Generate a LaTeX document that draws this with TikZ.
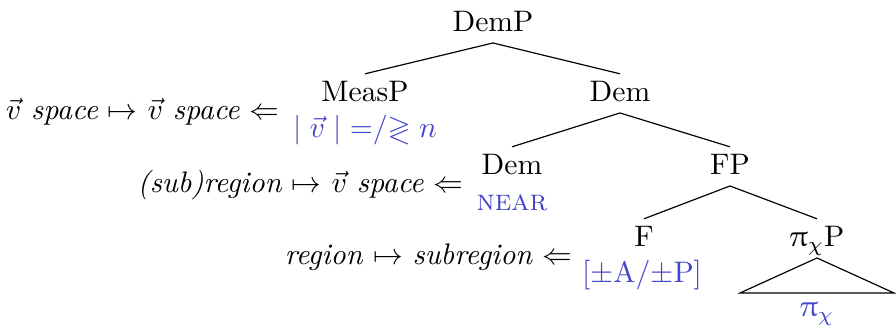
\documentclass[tikz,border=0pt]{standalone}
\usepackage{amsmath,amssymb}
\usepackage{upgreek}
\usepackage{tikz}
\definecolor{bleuGloss}{RGB}{68,68,204}

\begin{document}
\begin{tikzpicture}[x=0.337pt,y=-0.337pt,
  cat/.style={anchor=base,inner sep=2pt,text height=7.3pt,text depth=1.5pt},
  gloss/.style={anchor=base,inner sep=0pt,text=bleuGloss},
  maps/.style={anchor=base east,inner sep=0pt}]
  \useasboundingbox (0,0) rectangle (896,326);

  % Categories
  \node[cat] (demp)  at (493,32)  {DemP};
  \node[cat] (measp) at (365,102) {MeasP};
  \node[cat] (dem)   at (620,102) {Dem};
  \node[cat] (demb)  at (512,175) {Dem};
  \node[cat] (fp)    at (730,175) {FP};
  \node[cat] (f)     at (644,247) {F};
  \node[cat] (pchip) at (817,247) {$\uppi_\chi$P};

  % Branches
  \foreach \a/\b in {demp/measp,demp/dem,dem/demb,dem/fp,fp/f,fp/pchip}
    \draw (\a.south) -- (\b.north);

  % Triangle
  \coordinate (tl) at (740,293);
  \coordinate (tr) at (894,293);
  \draw (pchip.south) -- (tl) -- (tr) -- cycle;

  % Glosses
  \node[gloss] (gmeas) at (365,138) {$|\;\vec{v}\;|\mathrel{{=}/{\gtrless}}n$};
  \node[gloss] (gnear) at (512,211) {\textsc{near}};
  \node[gloss] (gf)    at (642,283) {[$\pm$A/$\pm$P]};
  \node[gloss] (gpchi) at (817,317) {$\uppi_\chi$};

  % Mappings
  \node[maps] (m1) at (280,120) {$\vec{v}$ \textit{space} $\mapsto$ $\vec{v}$ \textit{space} $\Leftarrow$};
  \node[maps] (m2) at (464,193) {\textit{(sub)region} $\mapsto$ $\vec{v}$ \textit{space} $\Leftarrow$};
  \node[maps] (m3) at (573,265) {\textit{region} $\mapsto$ \textit{subregion} $\Leftarrow$};
\end{tikzpicture}
\end{document}
